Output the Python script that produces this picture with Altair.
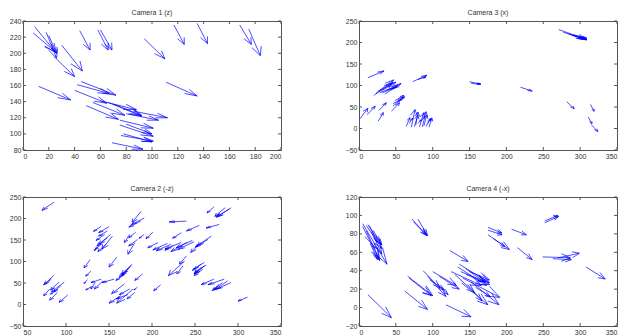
import altair as alt
import pandas as pd

# ---- arrow data: (x, y, u, v) ----
cam1 = [
    (9, 233, 17, -33), (8, 225, 17, -23), (18, 226, 8, -32), (20, 222, 6, -22),
    (24, 196, 16, -25), (30, 210, 16, -32), (44, 228, 8, -24), (58, 229, 8, -25),
    (60, 229, 9, -25), (94, 218, 16, -25), (117, 235, 8, -24), (135, 237, 8, -25),
    (168, 235, 9, -24), (175, 230, 9, -33), (12, 159, 25, -17), (45, 165, 27, -17),
    (42, 161, 25, -11), (40, 154, 25, -16), (54, 139, 25, -16), (49, 135, 25, -17),
    (66, 139, 26, -17), (70, 137, 22, -14), (86, 128, 26, -8), (75, 117, 26, -10),
    (75, 111, 26, -14), (76, 98, 25, -7), (69, 89, 24, -8), (111, 164, 24, -17),
    (60, 141, 28, -11), (80, 112, 20, -12), (78, 100, 22, -10), (80, 125, 25, -8),
]

cam3 = [
    (12, 118, 22, 16), (20, 77, 26, 30), (23, 82, 24, 31), (28, 83, 25, 17),
    (30, 87, 20, 21), (32, 83, 16, 12), (37, 89, 15, 8), (26, 87, 18, 16),
    (35, 80, 22, 25), (1, 22, 11, 25), (11, 32, 11, 20), (26, 17, 7, 20),
    (27, 42, 10, 18), (44, 40, 11, 20), (46, 52, 14, 21), (49, 65, 12, 12),
    (46, 58, 11, 9), (52, 60, 10, 14), (73, 109, 19, 15), (80, 114, 11, 6),
    (64, 5, 5, 20), (71, 3, 5, 41), (75, 4, 5, 27), (82, 4, 6, 33),
    (86, 4, 5, 35), (80, 12, 4, 8), (91, 5, 6, 18), (95, 3, 4, 21),
    (84, 16, 5, 12), (93, 12, 5, 12), (68, 12, 5, 12), (77, 8, 3, 30),
    (88, 6, 4, 25), (150, 109, 15, -6), (152, 105, 13, -2), (219, 96, 16, -9),
    (271, 230, 38, -23), (277, 224, 30, -17), (284, 220, 25, -14), (289, 217, 16, -8),
    (291, 218, 18, -8), (282, 62, 10, -16), (314, 56, 5, -16), (311, 27, 5, -16),
    (315, 9, 9, -16),
]

cam2 = [
    (86, 238, -14, -19), (86, 68, -11, -21), (83, 59, -9, -13), (92, 52, -10, -18),
    (98, 52, -15, -23), (94, 44, -8, -15), (81, 36, -7, -16), (90, 28, -9, -18),
    (102, 22, -10, -17), (88, 32, -6, -8),
    (141, 182, -9, -12), (150, 181, -12, -14), (148, 171, -10, -12), (145, 163, -10, -14),
    (152, 163, -14, -23), (148, 155, -12, -19), (154, 159, -12, -30), (141, 140, -7, -12),
    (147, 141, -10, -18), (136, 135, -3, -10),
    (187, 216, -10, -25), (191, 201, -15, -15), (187, 194, -14, -14), (181, 168, -8, -13),
    (174, 163, -6, -19), (183, 151, -10, -15), (180, 144, -8, -27), (191, 163, -6, -9),
    (201, 168, -8, -15),
    (240, 194, -20, -2), (255, 184, -15, -13), (272, 227, -8, -14), (292, 225, -17, -22),
    (290, 222, -15, -18), (285, 225, -12, -20), (278, 186, -15, -8), (234, 167, -10, -13),
    (269, 159, -17, -23), (257, 144, -12, -23), (265, 151, -15, -18),
    (218, 142, -17, -15), (222, 140, -17, -15), (234, 144, -19, -15), (247, 149, -19, -17),
    (249, 146, -19, -18), (241, 145, -19, -22), (207, 144, -12, -12), (225, 138, -10, -12),
    (240, 113, -8, -19), (238, 101, -19, -34), (236, 90, -7, -19),
    (261, 98, -12, -15), (261, 90, -12, -19), (259, 82, -10, -15), (257, 94, -10, -15),
    (263, 92, -14, -20), (258, 87, -8, -12),
    (272, 59, -15, -13), (284, 59, -19, -13), (292, 51, -17, -15), (288, 55, -15, -21),
    (282, 51, -12, -19), (278, 47, -6, -12), (311, 17, -11, -9),
    (177, 94, -12, -23), (176, 90, -12, -23), (174, 86, -12, -23), (172, 78, -7, -8),
    (168, 71, -10, -15), (159, 110, -9, -23), (128, 104, -7, -19), (129, 78, -6, -12),
    (141, 59, -12, -8), (143, 55, -10, -19), (134, 51, -5, -15), (130, 42, -7, -8),
    (125, 58, -4, -9), (156, 59, -14, -8),
    (168, 48, -15, -23), (174, 36, -12, -13), (178, 36, -19, -33), (164, 21, -14, -18),
    (172, 23, -14, -10), (180, 28, -9, -15), (183, 40, -4, -6), (210, 46, -8, -14),
    (189, 71, -9, -15),
]

cam4 = [
    (5, 91, 33, -44), (5, 88, 23, -37), (10, 89, 21, -25), (12, 90, 18, -22),
    (10, 83, 18, -31), (14, 89, 11, -18), (8, 77, 16, -13), (17, 82, 14, -24),
    (19, 84, 12, -16), (15, 70, 10, -18),
    (72, 96, 20, -18), (80, 96, 13, -18), (74, 93, 17, -14), (123, 62, 25, -12),
    (175, 87, 19, -6), (175, 84, 19, -5), (175, 79, 29, -16), (182, 75, 16, -9),
    (207, 85, 20, -6), (215, 65, 20, -13), (252, 94, 18, 6), (252, 92, 19, 7),
    (249, 55, 38, -1), (263, 53, 25, -1), (270, 54, 29, 5), (308, 44, 26, -13),
    (66, 34, 34, -21), (68, 32, 30, -19), (62, 18, 31, -20), (12, 14, 32, -25),
    (87, 40, 23, -19), (100, 39, 32, -15), (93, 34, 25, -22), (109, 34, 27, -14),
    (118, 3, 34, -13), (125, 39, 41, -15), (136, 47, 41, -20), (134, 44, 39, -20),
    (138, 39, 34, -11), (145, 36, 32, -11), (139, 27, 36, -24), (147, 25, 20, -18),
    (141, 32, 50, -21), (152, 28, 38, -25), (130, 36, 27, -20), (150, 39, 27, -9),
    (106, 26, 15, -12), (96, 30, 20, -11), (145, 42, 25, -14), (158, 22, 20, -10),
]

# ---- axes: tick labels (first and last give the domain) ----
cam1_xticks = [0, 20, 40, 60, 80, 100, 120, 140, 160, 180, 200]
cam1_yticks = [80, 100, 120, 140, 160, 180, 200, 220, 240]
cam3_xticks = [0, 50, 100, 150, 200, 250, 300, 350]
cam3_yticks = [-50, 0, 50, 100, 150, 200, 250]
cam2_xticks = [50, 100, 150, 200, 250, 300, 350]
cam2_yticks = [-50, 0, 50, 100, 150, 200, 250]
cam4_xticks = [0, 50, 100, 150, 200, 250, 300, 350]
cam4_yticks = [-20, 0, 20, 40, 60, 80, 100, 120]

W, H = 258, 129
ALPHA, BETA = 0.33, 0.33
FONT = "Liberation Sans"
FRAME = "#555555"


def segments(rows):
    recs = []
    for x, y, u, v in rows:
        tx, ty = x + u, y + v
        recs.append(dict(x=x, y=y, x2=tx, y2=ty))
        recs.append(dict(x=tx - ALPHA * (u + BETA * v), y=ty - ALPHA * (v - BETA * u), x2=tx, y2=ty))
        recs.append(dict(x=tx - ALPHA * (u - BETA * v), y=ty - ALPHA * (v + BETA * u), x2=tx, y2=ty))
    return pd.DataFrame(recs)


def panel(rows, title, xt, yt):
    df = segments(rows)
    xs = alt.Scale(domain=[xt[0], xt[-1]], nice=False, zero=False)
    ys = alt.Scale(domain=[yt[0], yt[-1]], nice=False, zero=False)
    xa = alt.Axis(values=xt, title=None)
    ya = alt.Axis(values=yt, title=None)
    arrows = alt.Chart(df).mark_rule(color="#0000ff", strokeWidth=0.7, clip=True).encode(
        x=alt.X("x:Q", scale=xs, axis=xa),
        y=alt.Y("y:Q", scale=ys, axis=ya),
        x2="x2:Q",
        y2="y2:Q",
    )
    xdf = pd.DataFrame({"t": xt})
    ydf = pd.DataFrame({"t": yt})
    tick = dict(color=FRAME, strokeWidth=1)
    tb = alt.Chart(xdf).mark_rule(**tick).encode(
        x=alt.X("t:Q", scale=xs, axis=xa), y=alt.value(H), y2=alt.value(H - 3))
    tt = alt.Chart(xdf).mark_rule(**tick).encode(
        x=alt.X("t:Q", scale=xs, axis=xa), y=alt.value(0), y2=alt.value(3))
    tl = alt.Chart(ydf).mark_rule(**tick).encode(
        y=alt.Y("t:Q", scale=ys, axis=ya), x=alt.value(0), x2=alt.value(3))
    tr = alt.Chart(ydf).mark_rule(**tick).encode(
        y=alt.Y("t:Q", scale=ys, axis=ya), x=alt.value(W), x2=alt.value(W - 3))
    return alt.layer(arrows, tb, tt, tl, tr).properties(
        width=W,
        height=H,
        title=alt.TitleParams(title, fontSize=7, font=FONT, fontWeight="normal",
                              color="#333333", offset=1, frame="group"),
    )


p1 = panel(cam1, "Camera 1 (z)", cam1_xticks, cam1_yticks)
p3 = panel(cam3, "Camera 3 (x)", cam3_xticks, cam3_yticks)
p2 = panel(cam2, "Camera 2 (-z)", cam2_xticks, cam2_yticks)
p4 = panel(cam4, "Camera 4 (-x)", cam4_xticks, cam4_yticks)

chart = alt.vconcat(
    alt.hconcat(p1, p3, spacing=62),
    alt.hconcat(p2, p4, spacing=62),
    spacing=24,
).properties(
    padding={"left": 0, "top": 0, "right": 0, "bottom": 0}
).configure_axis(
    labelFont=FONT, labelFontSize=7, labelColor="#333333", labelPadding=2,
    domain=False, ticks=False, grid=False,
).configure_view(
    stroke=FRAME, strokeWidth=1,
)

chart.save("out.html", embed_options={"renderer": "svg", "actions": False})
